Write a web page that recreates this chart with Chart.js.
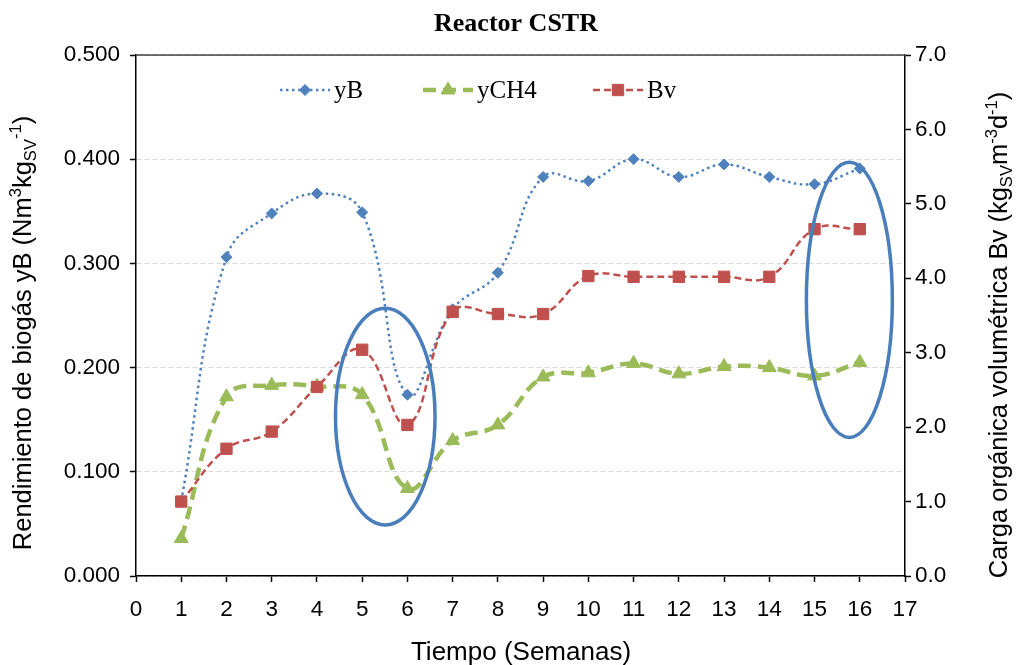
<!DOCTYPE html>
<html>
<head>
<meta charset="utf-8">
<script src="https://cdn.jsdelivr.net/npm/chart.js@4.4.1/dist/chart.umd.min.js"></script>
<style>
  body { margin: 0; background: #fff; }
  #caja { width: 1016px; height: 665px; }
</style>
</head>
<body>
<div id="caja"><canvas id="reactor"></canvas></div>
<script>
// datos
var semanas = [1, 2, 3, 4, 5, 6, 7, 8, 9, 10, 11, 12, 13, 14, 15, 16];
var yB   = [0.072, 0.306, 0.348, 0.367, 0.349, 0.174, 0.256, 0.291, 0.383, 0.379, 0.400, 0.383, 0.395, 0.383, 0.376, 0.391];
var yCH4 = [0.036, 0.172, 0.183, 0.182, 0.174, 0.084, 0.130, 0.145, 0.191, 0.195, 0.204, 0.194, 0.201, 0.200, 0.192, 0.205];
var Bv   = [1.00, 1.71, 1.94, 2.54, 3.04, 2.03, 3.55, 3.52, 3.52, 4.03, 4.02, 4.02, 4.02, 4.02, 4.66, 4.66];
var ticksIzq = [0, 0.1, 0.2, 0.3, 0.4, 0.5];
var ticksDer = [0, 1, 2, 3, 4, 5, 6, 7];
// elipses marcadas (en unidades de los ejes: x, eje izquierdo)
var elipses = [
  {x: 5.51, y: 0.153, rx: 1.1, ry: 0.104},
  {x: 15.77, y: 0.265, rx: 0.95, ry: 0.132}
];

function puntos(ys) {
  return semanas.map(function (s, i) { return {x: s, y: ys[i]}; });
}

var azul = '#4F81BD', verde = '#9BBB59', rojo = '#C0504D';
var sans = "'Liberation Sans', Arial, sans-serif";
var serif = "'Liberation Serif', 'Times New Roman', serif";

function textoRico(ctx, partes, size) {
  var total = 0;
  partes.forEach(function (p) {
    ctx.font = (p.sup || p.sub ? size * 0.65 : size) + 'px ' + sans;
    p.w = ctx.measureText(p.t).width;
    total += p.w;
  });
  var x = -total / 2;
  ctx.textAlign = 'left';
  ctx.textBaseline = 'alphabetic';
  partes.forEach(function (p) {
    ctx.font = (p.sup || p.sub ? size * 0.65 : size) + 'px ' + sans;
    var dy = size * 0.36;
    if (p.sup) dy -= size * 0.38;
    if (p.sub) dy += size * 0.2;
    ctx.fillText(p.t, x, dy);
    x += p.w;
  });
}

var extras = {
  id: 'extras',
  afterDatasetsDraw: function (chart) {
    var ctx = chart.ctx, sx = chart.scales.x, sy = chart.scales.y;
    ctx.save();
    ctx.strokeStyle = '#4A7EBB';
    ctx.lineWidth = 3.5;
    elipses.forEach(function (e) {
      var cx = sx.getPixelForValue(e.x), cy = sy.getPixelForValue(e.y);
      var rx = sx.getPixelForValue(e.x + e.rx) - cx;
      var ry = cy - sy.getPixelForValue(e.y + e.ry);
      ctx.beginPath();
      ctx.ellipse(cx, cy, rx, ry, 0, 0, Math.PI * 2);
      ctx.stroke();
    });
    ctx.restore();
  },
  afterDraw: function (chart) {
    var ctx = chart.ctx, a = chart.chartArea;
    ctx.save();
    // linea superior
    ctx.strokeStyle = '#404040';
    ctx.lineWidth = 1.5;
    ctx.beginPath();
    ctx.moveTo(a.left, a.top);
    ctx.lineTo(a.right, a.top);
    ctx.stroke();

    // titulo
    ctx.fillStyle = '#000';
    ctx.font = 'bold 26px ' + serif;
    ctx.textAlign = 'center';
    ctx.textBaseline = 'middle';
    ctx.fillText('Reactor CSTR', 516, 24);

    // titulos de ejes
    ctx.save();
    ctx.translate(22, 333);
    ctx.rotate(-Math.PI / 2);
    textoRico(ctx, [{t: 'Rendimiento de biogás yB (Nm'}, {t: '3', sup: true}, {t: 'kg'}, {t: 'SV', sub: true}, {t: '-1', sup: true}, {t: ')'}], 25.5);
    ctx.restore();
    ctx.save();
    ctx.translate(998, 335);
    ctx.rotate(-Math.PI / 2);
    textoRico(ctx, [{t: 'Carga orgánica volumétrica Bv (kg'}, {t: 'SV', sub: true}, {t: 'm'}, {t: '-3', sup: true}, {t: 'd'}, {t: '-1', sup: true}, {t: ')'}], 25.5);
    ctx.restore();
    ctx.save();
    ctx.translate(521, 651);
    textoRico(ctx, [{t: 'Tiempo (Semanas)'}], 26);
    ctx.restore();

    // leyenda
    var items = [[0, 280], [1, 423], [2, 593]];
    items.forEach(function (it) {
      var ds = chart.data.datasets[it[0]];
      var x0 = it[1], y0 = 90;
      ctx.save();
      ctx.strokeStyle = ds.borderColor;
      ctx.lineWidth = ds.borderWidth;
      ctx.setLineDash(ds.borderDash);
      ctx.beginPath();
      ctx.moveTo(x0, y0);
      ctx.lineTo(x0 + 50, y0);
      ctx.stroke();
      ctx.setLineDash([]);
      ctx.fillStyle = ds.backgroundColor;
      ctx.strokeStyle = ds.borderColor;
      ctx.lineWidth = 1;
      Chart.helpers.drawPoint(ctx, {pointStyle: ds.pointStyle, radius: ds.pointRadius, borderWidth: 1, rotation: 0}, x0 + 25, y0);
      ctx.restore();
      ctx.fillStyle = '#000';
      ctx.font = '25px ' + serif;
      ctx.textAlign = 'left';
      ctx.textBaseline = 'middle';
      ctx.fillText(ds.label, x0 + 54, y0 + 1);
    });
    ctx.restore();
  }
};

var chart = new Chart(document.getElementById('reactor'), {
  type: 'line',
  data: {
    datasets: [{
      label: 'yB',
      data: puntos(yB),
      yAxisID: 'y',
      borderColor: azul,
      backgroundColor: azul,
      borderWidth: 2.5,
      borderDash: [2.5, 3.5],
      pointStyle: 'rectRot',
      pointRadius: 5.5,
      pointBorderWidth: 1,
      tension: 0.42,
      order: 3
    }, {
      label: 'yCH4',
      data: puntos(yCH4),
      yAxisID: 'y',
      borderColor: verde,
      backgroundColor: verde,
      borderWidth: 4.5,
      borderDash: [13, 7],
      pointStyle: 'triangle',
      pointRadius: 8,
      pointBorderWidth: 1,
      tension: 0.42,
      order: 2
    }, {
      label: 'Bv',
      data: puntos(Bv),
      yAxisID: 'y1',
      borderColor: rojo,
      backgroundColor: rojo,
      borderWidth: 2.5,
      borderDash: [7, 4],
      pointStyle: 'rect',
      pointRadius: 8,
      pointBorderWidth: 1,
      tension: 0.42,
      order: 1
    }]
  },
  options: {
    responsive: true,
    maintainAspectRatio: false,
    animation: false,
    layout: { padding: { top: 55, left: 0, right: 0, bottom: 0 } },
    plugins: {
      legend: { display: false },
      title: { display: false },
      tooltip: { enabled: false }
    },
    scales: {
      x: {
        type: 'linear',
        min: 0,
        max: 17,
        afterFit: function (s) { s.height = 89; },
        ticks: { stepSize: 1, padding: 14, color: '#000', font: { family: sans, size: 22.5 } },
        grid: { drawOnChartArea: false, drawTicks: true, tickLength: 6, tickColor: '#000', tickWidth: 1.5 },
        border: { color: '#000', width: 1.5 }
      },
      y: {
        position: 'left',
        min: 0,
        max: 0.5,
        afterFit: function (s) { s.width = 136; },
        afterBuildTicks: function (s) { s.ticks = ticksIzq.map(function (v) { return {value: v}; }); },
        ticks: { padding: 10, color: '#000', font: { family: sans, size: 22.5 },
          callback: function (v) { return v.toFixed(3); } },
        grid: { color: '#d9d9d9', lineWidth: 1, tickLength: 6, tickColor: '#000', tickWidth: 1.5 },
        border: { color: '#000', width: 1.5, dash: [5, 3] }
      },
      y1: {
        position: 'right',
        min: 0,
        max: 7,
        afterFit: function (s) { s.width = 111; },
        afterBuildTicks: function (s) { s.ticks = ticksDer.map(function (v) { return {value: v}; }); },
        ticks: { padding: 4, color: '#000', font: { family: sans, size: 22.5 },
          callback: function (v) { return v.toFixed(1); } },
        grid: { drawOnChartArea: false, tickLength: 6, tickColor: '#000', tickWidth: 1.5 },
        border: { color: '#000', width: 1.5 }
      }
    }
  },
  plugins: [extras]
});
</script>
</body>
</html>
